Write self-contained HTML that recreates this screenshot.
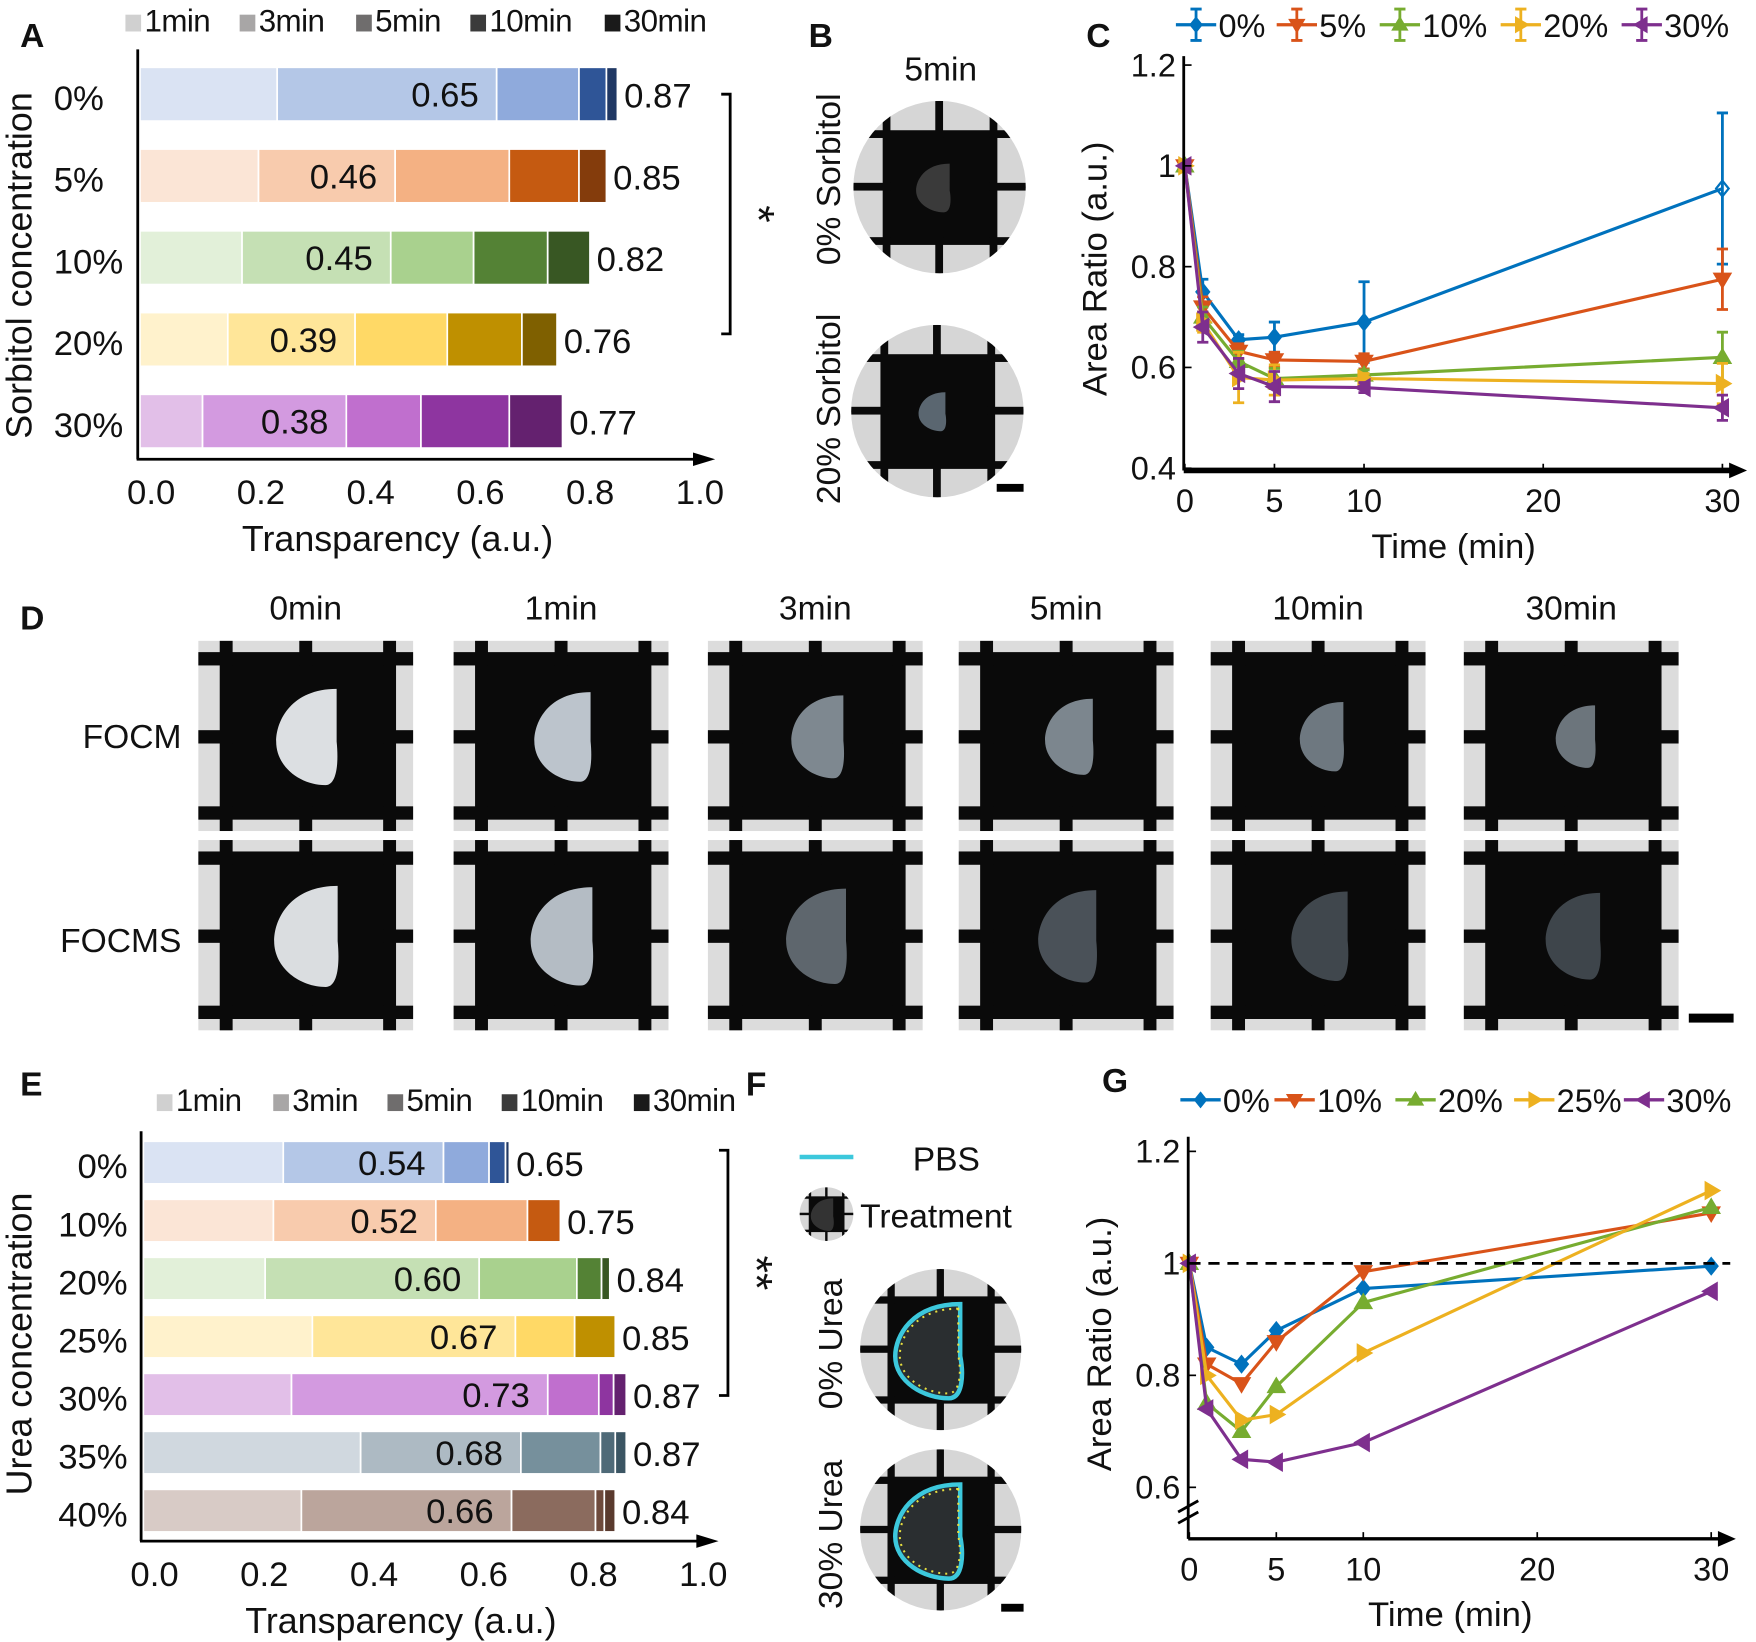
<!DOCTYPE html>
<html><head><meta charset="utf-8"><style>
html,body{margin:0;padding:0;background:#fff}
svg{display:block}
text{font-family:"Liberation Sans",Arial,sans-serif;fill:#111}
</style></head><body>
<svg id="fig" width="1756" height="1642" viewBox="0 0 1568 1466" xmlns="http://www.w3.org/2000/svg"></svg>
<script>
// ---- Panel A data (cumulative transparency per time) ----
const aCats = ["0%","5%","10%","20%","30%"];
const aVals = [[0.25,0.65,0.80,0.85,0.87],[0.216,0.465,0.673,0.80,0.85],[0.186,0.457,0.608,0.743,0.82],[0.16,0.392,0.56,0.696,0.76],[0.114,0.376,0.512,0.673,0.77]];
const aMid = ["0.65","0.46","0.45","0.39","0.38"];
const aEnd = ["0.87","0.85","0.82","0.76","0.77"];
// ---- Panel E data ----
const eCats = ["0%","10%","20%","25%","30%","35%","40%"];
const eVals = [[0.255,0.547,0.63,0.66,0.667],[0.237,0.533,0.70,0.76,0.76],[0.222,0.612,0.79,0.835,0.85],[0.308,0.678,0.786,0.86,0.86],[0.27,0.737,0.83,0.857,0.88],[0.396,0.688,0.833,0.86,0.88],[0.288,0.671,0.824,0.84,0.86]];
const eMid = ["0.54","0.52","0.60","0.67","0.73","0.68","0.66"];
const eEnd = ["0.65","0.75","0.84","0.85","0.87","0.87","0.84"];
const xTicks = ["0.0","0.2","0.4","0.6","0.8","1.0"];
const timeLabels = ["1min","3min","5min","10min","30min"];
// ---- Panel C data ----
const cTimes = [0,1,3,5,10,30];
const cSeries = ["0%","5%","10%","20%","30%"];
const c0 = [1.0,0.75,0.655,0.66,0.69,0.955];
const c5 = [1.0,0.72,0.632,0.615,0.612,0.775];
const c10 = [1.0,0.70,0.612,0.578,0.585,0.62];
const c20 = [1.0,0.69,0.58,0.575,0.578,0.568];
const c30 = [1.0,0.68,0.588,0.562,0.56,0.52];
const cErr0 = [0,0.025,0.01,0.03,0.08,0.15];
const cErr5 = [0,0.02,0.015,0.015,0.015,0.06];
const cErr10 = [0,0.02,0.02,0.02,0.01,0.05];
const cErr20 = [0,0.02,0.05,0.03,0.01,0.04];
const cErr30 = [0,0.03,0.03,0.03,0.01,0.025];
const cYTicks = ["0.4","0.6","0.8","1","1.2"];
const cXTicks = [0,5,10,20,30];
// ---- Panel G data ----
const gSeries = ["0%","10%","20%","25%","30%"];
const g0 = [1,0.85,0.82,0.88,0.955,0.995];
const g10 = [1,0.82,0.785,0.86,0.985,1.09];
const g20 = [1,0.75,0.70,0.78,0.93,1.10];
const g25 = [1,0.80,0.72,0.73,0.84,1.13];
const g30 = [1,0.74,0.65,0.645,0.68,0.95];
const gYTicks = ["0.6","0.8","1","1.2"];

const NS="http://www.w3.org/2000/svg";
const svg=document.getElementById('fig');
function el(tag,attrs,parent,txt){const e=document.createElementNS(NS,tag);for(const k in attrs)e.setAttribute(k,attrs[k]);if(txt!==undefined)e.textContent=txt;(parent||svg).appendChild(e);return e;}
function grp(name){const g=el('g',{});return g;}

const pal={blue:["#dae3f3","#b4c7e7","#8faadc","#2f5597","#203864"],orange:["#fbe5d6","#f8cbad","#f4b183","#c55a11","#843c0c"],green:["#e2f0d9","#c5e0b4","#a9d18e","#548235","#385723"],yellow:["#fff2cc","#ffe699","#ffd966","#bf9000","#7f6000"],purple:["#e2bfe8","#d39ae0","#c06fce","#8e35a0","#64216f"],slate:["#d0d8df","#adbac3","#76909c","#4f6a78","#3b5563"],brown:["#d8cbc6","#bba59c","#8b6b5e","#6e4a3c","#5a3a2e"]};
const legGrey=["#d0d0d0","#a8a6a6","#6f6d6d","#3b3b3b","#1a1a1a"];

function panelLabel(t,x,y){const e=el('text',{x:x,y:y,'font-size':30,'font-weight':'bold'},svg,t);}

function barPanel(name,cats,vals,mids,ends,colors,opt){
  const g=grp(name);
  const x0=opt.x0,u=opt.unit;
  const X=v=>x0+v*u;
  timeLabels.forEach((t,i)=>{const lx=opt.legX[i];
    const r=el('rect',{x:lx,y:opt.legY-13,width:14,height:15,fill:legGrey[i]},g);
    
    const tx=el('text',{x:lx+17,y:opt.legY+2,'font-size':28,'letter-spacing':-0.5},g,t);
    });
  cats.forEach((c,i)=>{const yc=opt.y0+i*opt.step,h=opt.h;let prev=0;
    vals[i].forEach((v,j)=>{const r=el('rect',{x:X(prev),y:yc-h/2,width:Math.max(0,X(v)-X(prev)),height:h,fill:colors[i][j],stroke:'#fff','stroke-width':1.5},g);
      prev=v;});
    const mt=el('text',{x:X(vals[i][1])-16,y:yc+11,'font-size':31,'text-anchor':'end'},g,mids[i]);
    
    const et=el('text',{x:X(vals[i][4])+6,y:yc+12,'font-size':31},g,ends[i]);
    
    const ct=el('text',{x:opt.catX,y:yc+14,'font-size':31,'text-anchor':opt.catAnchor},g,c);
    
  });
  const ya=el('line',{x1:x0-2,y1:opt.axTop,x2:x0-2,y2:opt.axY,stroke:'#000','stroke-width':2.5},g);
  
  const xa=el('line',{x1:x0-3,y1:opt.axY,x2:x0+u*1.02,y2:opt.axY,stroke:'#000','stroke-width':2.5},g);
  
  el('polygon',{points:`${x0+u*1.04+4},${opt.axY} ${x0+u*1.02-6},${opt.axY-6} ${x0+u*1.02-6},${opt.axY+6}`,fill:'#000'},g);
  xTicks.forEach((t,i)=>{const tt=el('text',{x:X(i*0.2)+10,y:opt.axY+40,'font-size':31,'text-anchor':'middle'},g,t);
    });
  const xt=el('text',{x:X(0.5)-15,y:opt.axY+82,'font-size':32,'text-anchor':'middle'},g,'Transparency (a.u.)');
  
  const yt=el('text',{x:0,y:0,'font-size':32,'text-anchor':'middle',transform:`translate(${opt.ytX},${opt.ytY}) rotate(-90)`},g,opt.ytitle);
  
  const b=opt.br;
  const bp=el('path',{d:`M${b.x-8},${b.y1} H${b.x} V${b.y2} H${b.x-8}`,fill:'none',stroke:'#000','stroke-width':2.5},g);
  
  const st=el('text',{x:0,y:0,'font-size':40,'text-anchor':'middle',transform:`translate(${b.x+12},${(b.y1+b.y2)/2}) rotate(90)`},g,b.t);
  
}

panelLabel('A',18,42);
barPanel('panel-a-sorbitol-transparency',aCats,aVals,aMid,aEnd,[pal.blue,pal.orange,pal.green,pal.yellow,pal.purple],
 {x0:125,unit:490,y0:84,step:73,h:48,legX:[112,214,318,420,540],legY:26,catX:48,catAnchor:'start',axTop:44,axY:410,ytX:28,ytY:237,ytitle:'Sorbitol concentration',br:{x:652,y1:84,y2:298,t:'*'}});
panelLabel('E',18,978);
barPanel('panel-e-urea-transparency',eCats,eVals,eMid,eEnd,[pal.blue,pal.orange,pal.green,pal.yellow,pal.purple,pal.slate,pal.brown],
 {x0:128,unit:490,y0:1038,step:51.8,h:38,legX:[140,244,346,448,566],legY:990,catX:114,catAnchor:'end',axTop:1010,axY:1376,ytX:28,ytY:1200,ytitle:'Urea concentration',br:{x:650,y1:1027,y2:1246,t:'**'}});

// ---- photos ----
function photo(g,x,y,w,h,tissue,sc,tag){
  const cp=el('clipPath',{id:'cp'+tag},g);el('rect',{x:x,y:y,width:w,height:h},cp);
  const pg=el('g',{'clip-path':`url(#cp${tag})`},g);
  el('rect',{x:x,y:y,width:w,height:h,fill:'#dcdcdc'},pg);
  el('rect',{x:x+w*0.11,y:y+h*0.08,width:w*0.78,height:h*0.84,fill:'#0a0a0a'},pg);
  [0.1,0.47,0.86].forEach(f=>el('rect',{x:x+w*f,y:y,width:w*0.06,height:h,fill:'#0a0a0a'},pg));
  [0.06,0.47,0.87].forEach(f=>el('rect',{x:x,y:y+h*f,width:w,height:h*0.07,fill:'#0a0a0a'},pg));
  const cx=x+w*0.55,cy=y+h*0.5;
  el('path',{d:`M${cx+18*sc},${cy-42*sc} C${cx-22*sc},${cy-42*sc} ${cx-36*sc},${cy-14*sc} ${cx-36*sc},${cy+5*sc} C${cx-36*sc},${cy+28*sc} ${cx-14*sc},${cy+44*sc} ${cx+8*sc},${cy+44*sc} C${cx+18*sc},${cy+44*sc} ${cx+20*sc},${cy+25*sc} ${cx+18*sc},${cy+5*sc} Z`,fill:tissue},pg);
  return pg;
}
const dg=grp('panel-d-photos');
panelLabel('D',18,562);
const dTimes=["0min","1min","3min","5min","10min","30min"];
const dX=[177,405,632,856,1081,1307];
const dTop=["#dcdfe2","#bcc4cc","#7e8890","#7c868e","#6e7880","#6c757c"];
const dBot=["#dadde0","#b4bcc4","#5e666d","#4a5158","#40474d","#3e454b"];
dX.forEach((x,i)=>{
  const t=el('text',{x:x+96,y:553,'font-size':30,'text-anchor':'middle'},dg,dTimes[i]);
  
  const p1=photo(dg,x,572,192,170,dTop[i],1.0-i*0.07,'d1'+i);
  const p2=photo(dg,x,750,192,170,dBot[i],1.05-i*0.03,'d2'+i);
});
let t1=el('text',{x:162,y:668,'font-size':30,'text-anchor':'end'},dg,'FOCM');
let t2=el('text',{x:162,y:850,'font-size':30,'text-anchor':'end'},dg,'FOCMS');
let sb=el('rect',{x:1508,y:905,width:40,height:8,fill:'#000'},dg);

function circPhoto(g,cx,cy,r,tissue,sc,tag,outline){
  const cp=el('clipPath',{id:'cc'+tag},g);el('circle',{cx:cx,cy:cy,r:r},cp);
  const pg=el('g',{'clip-path':`url(#cc${tag})`},g);
  el('rect',{x:cx-r,y:cy-r,width:2*r,height:2*r,fill:'#d6d6d6'},pg);
  el('rect',{x:cx-r*0.62,y:cy-r*0.62,width:r*1.24,height:r*1.24,fill:'#0a0a0a'},pg);
  [-0.66,0.58].forEach(f=>{el('rect',{x:cx+r*f,y:cy-r,width:r*0.09,height:2*r,fill:'#0a0a0a'},pg);el('rect',{x:cx-r,y:cy+r*f,width:2*r,height:r*0.09,fill:'#0a0a0a'},pg);});
  el('rect',{x:cx-r*0.05,y:cy-r,width:r*0.09,height:2*r,fill:'#0a0a0a'},pg);
  el('rect',{x:cx-r,y:cy-r*0.05,width:2*r,height:r*0.09,fill:'#0a0a0a'},pg);
  const d=`M${cx+12*sc},${cy-28*sc} C${cx-18*sc},${cy-28*sc} ${cx-28*sc},${cy-8*sc} ${cx-28*sc},${cy+4*sc} C${cx-28*sc},${cy+20*sc} ${cx-10*sc},${cy+30*sc} ${cx+5*sc},${cy+30*sc} C${cx+14*sc},${cy+30*sc} ${cx+14*sc},${cy+14*sc} ${cx+12*sc},${cy+4*sc} Z`;
  el('path',{d:d,fill:tissue,stroke:outline?'#3cc8dc':'none','stroke-width':4},pg);
  if(outline)el('path',{d:d,fill:'none',stroke:'#e8e040','stroke-width':2,'stroke-dasharray':'2 5',transform:`translate(${cx*0.1},${cy*0.1}) scale(0.9)`},pg);
  return pg;
}
panelLabel('B',722,42);
const bg=grp('panel-b-photos');
let bt=el('text',{x:840,y:72,'font-size':30,'text-anchor':'middle'},bg,'5min');
let b1=circPhoto(bg,839,167,77,'#3a3a3a',0.75,'b1',false);
let b2=circPhoto(bg,837,367,77,'#5a6670',0.6,'b2',false);
let bl1=el('text',{x:0,y:0,'font-size':30,'text-anchor':'middle',transform:'translate(750,160) rotate(-90)'},bg,'0% Sorbitol');
let bl2=el('text',{x:0,y:0,'font-size':30,'text-anchor':'middle',transform:'translate(750,365) rotate(-90)'},bg,'20% Sorbitol');
let bsb=el('rect',{x:890,y:432,width:24,height:7,fill:'#000'},bg);

panelLabel('F',666,978);
const fg=grp('panel-f-photos');
let fl=el('line',{x1:714,y1:1033,x2:762,y2:1033,stroke:'#3cc8dc','stroke-width':4},fg);
let ft=el('text',{x:815,y:1045,'font-size':30},fg,'PBS');
let fi=circPhoto(fg,738,1084,24,'#333',0.5,'fi',false);
let ft2=el('text',{x:768,y:1096,'font-size':30},fg,'Treatment');
let f1=circPhoto(fg,840,1205,72,'#2a2e30',1.45,'f1',true);
let f2=circPhoto(fg,840,1366,72,'#2a2e30',1.45,'f2',true);
let fl1=el('text',{x:0,y:0,'font-size':30,'text-anchor':'middle',transform:'translate(752,1200) rotate(-90)'},fg,'0% Urea');
let fl2=el('text',{x:0,y:0,'font-size':30,'text-anchor':'middle',transform:'translate(752,1370) rotate(-90)'},fg,'30% Urea');
let fsb=el('rect',{x:894,y:1432,width:20,height:7,fill:'#000'},fg);

// ---- line charts ----
const lc=["#0072bd","#d95319","#77ac30","#edb120","#7e2f8e"];
const mk=["diamond","down","up","right","left"];
function marker(g,kind,x,y,s,c,fill){
  let pts;
  if(kind==="diamond")pts=[[0,-s],[s*0.8,0],[0,s],[-s*0.8,0]];
  else if(kind==="down")pts=[[-s,-s*0.7],[s,-s*0.7],[0,s]];
  else if(kind==="up")pts=[[-s,s*0.7],[s,s*0.7],[0,-s]];
  else if(kind==="right")pts=[[-s*0.7,-s],[-s*0.7,s],[s,0]];
  else pts=[[s*0.7,-s],[s*0.7,s],[-s,0]];
  return el('polygon',{points:pts.map(p=>(x+p[0])+','+(y+p[1])).join(' '),fill:fill?c:'none',stroke:c,'stroke-width':2},g);
}
function lineChart(name,opt,names,series,errs){
  const g=grp(name);
  const X=t=>opt.x0+t*(opt.x30-opt.x0)/30;
  const Y=v=>opt.yRef+(opt.vRef-v)*opt.perUnit;
  series.forEach((s,k)=>{const sg=el('g',{},g);
    const p=el('polyline',{points:s.map((v,i)=>X(cTimes[i])+','+Y(v)).join(' '),fill:'none',stroke:lc[k],'stroke-width':2.8},sg);
    
    s.forEach((v,i)=>{
      if(errs){const e=errs[k][i];if(e>0){const x=X(cTimes[i]);
        const eb=el('path',{d:`M${x},${Y(v-e)} V${Y(v+e)} M${x-5},${Y(v-e)} H${x+5} M${x-5},${Y(v+e)} H${x+5}`,stroke:lc[k],'stroke-width':2.5,fill:'none'},sg);
        }}
      const m=marker(sg,mk[k],X(cTimes[i]),Y(v),7,lc[k],!(i===5&&k===0&&errs));
      });
  });
  const ya=el('line',{x1:opt.x0-1,y1:opt.top,x2:opt.x0-1,y2:opt.axY,stroke:'#000','stroke-width':2.5},g);
  
  const xa=el('line',{x1:opt.x0-1,y1:opt.axY,x2:opt.x30+10,y2:opt.axY,stroke:'#000','stroke-width':opt.axW},g);
  
  el('polygon',{points:`${opt.x30+22},${opt.axY} ${opt.x30+6},${opt.axY-7} ${opt.x30+6},${opt.axY+7}`,fill:'#000'},g);
  cXTicks.forEach(t=>{el('line',{x1:X(t),y1:opt.axY,x2:X(t),y2:opt.axY-6,stroke:'#000','stroke-width':1.5},g);
    const tt=el('text',{x:X(t),y:opt.axY+37,'font-size':29,'text-anchor':'middle',fill:'#222'},g,String(t));
    });
  opt.yTicks.forEach(t=>{const v=parseFloat(t);
    el('line',{x1:opt.x0,y1:Y(v),x2:opt.x0+6,y2:Y(v),stroke:'#000','stroke-width':1.5},g);
    const tt=el('text',{x:opt.x0-8,y:Y(v)+10,'font-size':29,'text-anchor':'end',fill:'#333'},g,t);
    });
  const xt=el('text',{x:(opt.x0+opt.x30)/2,y:opt.axY+78,'font-size':31,'text-anchor':'middle'},g,'Time (min)');
  
  const yt=el('text',{x:0,y:0,'font-size':31,'text-anchor':'middle',transform:`translate(${opt.x0-70},${opt.ytY}) rotate(-90)`},g,'Area Ratio (a.u.)');
  
  names.forEach((n,k)=>{const lx=opt.legX[k],ly=opt.legY;
    const lg=el('g',{},g);
    el('line',{x1:lx,y1:ly,x2:lx+36,y2:ly,stroke:lc[k],'stroke-width':3},lg);
    if(errs)el('path',{d:`M${lx+18},${ly-14} V${ly+14} M${lx+13},${ly-14} H${lx+23} M${lx+13},${ly+14} H${lx+23}`,stroke:lc[k],'stroke-width':2.5},lg);
    marker(lg,mk[k],lx+18,ly,6,lc[k],true);
    el('text',{x:lx+38,y:ly+11,'font-size':29},lg,n);});
  return {g,Y};
}
panelLabel('C',970,42);
lineChart('panel-c-sorbitol-area-ratio',{x0:1058,x30:1538,yRef:418,vRef:0.4,perUnit:450,top:50,axY:420,axW:5,yTicks:cYTicks,ytY:240,legX:[1050,1140,1232,1340,1448],legY:22},
 cSeries,[c0,c5,c10,c20,c30],[cErr0,cErr5,cErr10,cErr20,cErr30]);
panelLabel('G',984,975);
const G=lineChart('panel-g-urea-area-ratio',{x0:1062,x30:1528,yRef:1128,vRef:1.0,perUnit:500,top:1015,axY:1374,axW:3,yTicks:gYTicks,ytY:1200,legX:[1054,1138,1246,1352,1450],legY:982},
 gSeries,[g0,g10,g20,g25,g30],null);
const ref=el('line',{x1:1062,y1:G.Y(1),x2:1545,y2:G.Y(1),stroke:'#000','stroke-width':2.5,'stroke-dasharray':'10 7'},G.g);

const brk=el('path',{d:'M1052,1350 L1070,1340 M1052,1360 L1070,1350',stroke:'#000','stroke-width':2.5,fill:'none'},G.g);

</script>
</body></html>
